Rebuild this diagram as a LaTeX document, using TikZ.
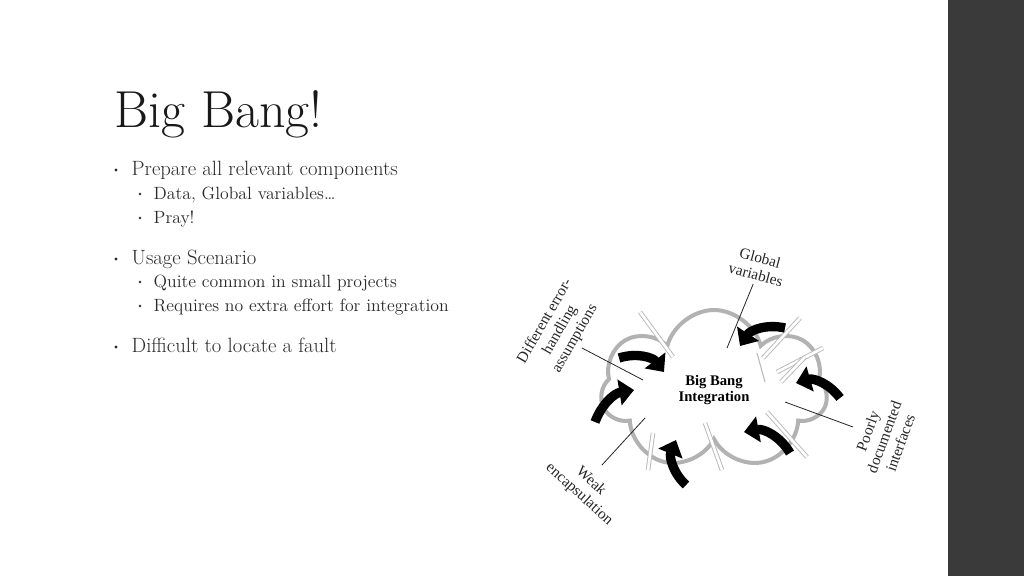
\documentclass[tikz,border=0pt]{standalone}
\usepackage{fontspec}
\newfontfamily\figfont{Liberation Serif}
\usetikzlibrary{
    arrows.meta,
    shapes.symbols,
    positioning
}
\definecolor{slidegray}{HTML}{3A3A3A}
\definecolor{textgray}{HTML}{2A2A2A}
\tikzset{
    bullet/.style={anchor=base west, text=textgray, font=\fontsize{15.5}{17}\selectfont},
    subbullet/.style={anchor=base west, text=textgray, font=\fontsize{13.3}{15}\selectfont},
    dot/.style={circle, fill=textgray, inner sep=0pt, minimum size=2.5pt},
    bigarrow/.style={line width=7pt, -{Triangle[length=11pt, width=19pt]}},
    spark/.style={gray!55, line width=0.7pt, double distance=2pt, double=white},
    tag/.style={font=\figfont\fontsize{11.5}{13}\selectfont, align=center, text=black!85},
    leader/.style={black!85, line width=0.6pt}
}
\begin{document}
\begin{tikzpicture}[x=0.75pt, y=-0.75pt]
    \useasboundingbox (0,0) rectangle (1024,576);
    \fill[white] (0,0) rectangle (1024,576);
    \fill[slidegray] (948,0) rectangle (1024,576);

    % title and bullets
    \node[anchor=base west, text=black!90, font=\fontsize{39}{42}\selectfont] (title) at (110,127) {Big Bang!};
    \node[bullet] (b1) at (127,175) {Prepare all relevant components};
    \node[subbullet] (s1) at (149,199) {Data, Global variables\dots};
    \node[subbullet] (s2) at (149,223) {Pray!};
    \node[bullet] (b2) at (127,264) {Usage Scenario};
    \node[subbullet] (s3) at (149,287) {Quite common in small projects};
    \node[subbullet] (s4) at (149,311) {Requires no extra effort for integration};
    \node[bullet] (b3) at (127,352) {Difficult to locate a fault};
    \foreach \y in {170,259,347} \node[dot] at (116,\y) {};
    \foreach \y in {194,218,282,306} \node[dot, minimum size=2pt] at (140,\y) {};

    % cloud
    \node[cloud, cloud puffs=7, aspect=1.5, draw=gray!60, line width=3pt,
          minimum width=170pt, minimum height=120pt] (cloud) at (714,390) {};
    \node[font=\figfont\bfseries\fontsize{11}{12}\selectfont, align=center] (core) at (714,390) {Big Bang\\Integration};

    % sparks
    \draw[spark] (640,312) -- (673,357);
    \draw[spark] (800,318) -- (763,358);
    \draw[spark] (823,348) -- (777,372);
    \draw[spark] (805,357) -- (781,382);
    \draw[spark] (767,412) -- (807,457);
    \draw[spark] (705,423) -- (722,470);
    \draw[spark] (653,433) -- (648,470);
    \draw[gray!55, line width=0.8pt] (757,353) -- (765,382);

    % arrows into the cloud
    \coordinate (a1s) at (619,358); \coordinate (a1e) at (664,372);
    \coordinate (a2s) at (595,422); \coordinate (a2e) at (634,390);
    \coordinate (a3s) at (686,485); \coordinate (a3e) at (676,440);
    \coordinate (a4s) at (790,453); \coordinate (a4e) at (744,432);
    \coordinate (a5s) at (840,398); \coordinate (a5e) at (796,383);
    \coordinate (a6s) at (785,328); \coordinate (a6e) at (740,346);
    \draw[bigarrow] (a1s) to[bend left=35] (a1e);
    \draw[bigarrow] (a2s) to[bend left=30] (a2e);
    \draw[bigarrow] (a3s) to[bend left=35] (a3e);
    \draw[bigarrow] (a4s) to[bend right=35] (a4e);
    \draw[bigarrow] (a5s) to[bend right=35] (a5e);
    \draw[bigarrow] (a6s) to[bend right=35] (a6e);

    % labels and leaders
    \node[tag, rotate=-15] (glob) at (758,266) {Global\\variables};
    \node[tag, rotate=60] (err) at (560,330) {Different error-\\handling\\assumptions};
    \node[tag, rotate=70] (poor) at (884,437) {Poorly\\documented\\interfaces};
    \node[tag, rotate=-42] (weak) at (585,488) {Weak\\encapsulation};
    \coordinate (gIn) at (727,348);
    \coordinate (eIn) at (643,380);
    \coordinate (pIn) at (785,402);
    \coordinate (wIn) at (645,418);
    \draw[leader] (glob.south) -- (gIn);
    \draw[leader] (582,348) -- (eIn);
    \draw[leader] (853,427) -- (pIn);
    \draw[leader] (602,465) -- (wIn);
\end{tikzpicture}
\end{document}
